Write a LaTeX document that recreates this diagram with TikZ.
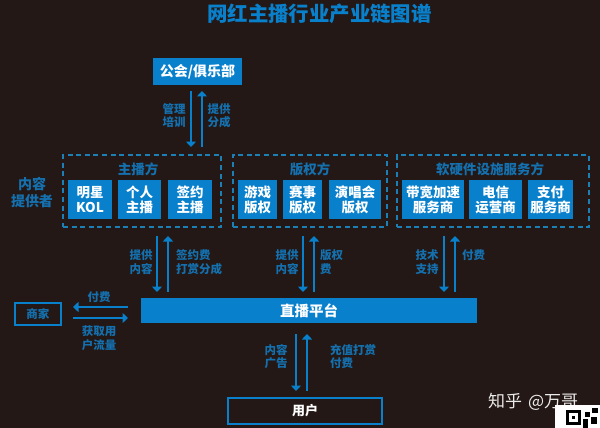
\documentclass[tikz,border=0pt]{standalone}
\usepackage{fontspec}
\setmainfont{Noto Sans CJK SC}
\usetikzlibrary{arrows.meta}
\definecolor{bgc}{HTML}{231815}
\definecolor{boxc}{HTML}{0880CC}
\definecolor{labc}{HTML}{1470AE}
\definecolor{dashc}{HTML}{1C7FB5}
\tikzset{
  fillbox/.style={fill=boxc,text=white,font=\fontsize{13.5}{15}\selectfont\bfseries,align=center,inner sep=0pt,outer sep=0pt,anchor=north west},
  outbox/.style={draw=boxc,line width=1.8pt,inner sep=0pt,outer sep=0pt,anchor=north west,align=center},
  grp/.style={draw=dashc,line width=1.8pt,dash pattern=on 5pt off 3.6pt,inner sep=0pt,outer sep=0pt,anchor=north west},
  lab/.style={text=labc,font=\fontsize{11.5}{13.5}\selectfont\bfseries,align=center,inner sep=0pt},
  labl/.style={lab,align=left,anchor=west},
  arr/.style={draw=boxc,line width=1.7pt,-{Triangle[width=10pt,length=5.5pt]}},
}
\newcommand{\bx}[7]{\node[#1,minimum width=#4pt-#2pt,minimum height=#5pt-#3pt] (#6) at (#2pt,-#3pt) {#7};}
\begin{document}
\begin{tikzpicture}[x=1pt,y=-1pt]
\useasboundingbox (0,0) rectangle (600,428);
\fill[bgc] (0,0) rectangle (600,428);
\node[text=boxc,font=\fontsize{20.4}{22}\selectfont\bfseries,inner sep=0pt] (title) at (319.5,14) {网红主播行业产业链图谱};
\bx{fillbox,font=\fontsize{14}{16}\selectfont\bfseries}{153}{58}{242}{85}{guild}{公会/俱乐部}
\bx{grp}{63}{155}{221}{227}{ga}{}
\bx{grp}{233}{155}{387}{227}{gb}{}
\bx{grp}{397}{155}{589}{227}{gc}{}
\node[text=labc,font=\fontsize{13.5}{15}\selectfont\bfseries,inner sep=0pt] (ta) at (138,169) {主播方};
\node[text=labc,font=\fontsize{13.5}{15}\selectfont\bfseries,inner sep=0pt] (tb) at (310,169) {版权方};
\node[text=labc,font=\fontsize{13.5}{15}\selectfont\bfseries,inner sep=0pt] (tc) at (490,169) {软硬件设施服务方};
\bx{fillbox}{68}{180}{112}{219}{a1}{明星\\KOL}
\bx{fillbox}{118}{180}{161}{219}{a2}{个人\\主播}
\bx{fillbox}{168}{180}{212}{219}{a3}{签约\\主播}
\bx{fillbox}{238}{180}{277}{219}{b1}{游戏\\版权}
\bx{fillbox}{283}{180}{322}{219}{b2}{赛事\\版权}
\bx{fillbox}{329}{180}{381}{219}{b3}{演唱会\\版权}
\bx{fillbox}{402}{180}{464}{219}{c1}{带宽加速\\服务商}
\bx{fillbox}{469}{180}{522}{219}{c2}{电信\\运营商}
\bx{fillbox}{528}{180}{573}{219}{c3}{支付\\服务商}
\node[text=labc,font=\fontsize{14}{16.5}\selectfont\bfseries,align=center,inner sep=0pt] (prov) at (32,192.5) {内容\\提供者};
\bx{fillbox,font=\fontsize{14.5}{16}\selectfont\bfseries}{141}{298}{477}{323}{plat}{直播平台}
\bx{outbox,text=labc,font=\fontsize{11.5}{13}\selectfont\bfseries}{15}{303}{61}{325}{shop}{商家}
\bx{outbox,text=white,font=\fontsize{13}{15}\selectfont\bfseries}{228}{398}{382}{424}{user}{用户}
% guild <-> group A
\draw[arr] ([xshift=-6.5pt,yshift=-6pt]guild.south) -- ([xshift=49pt,yshift=8pt]ga.north);
\draw[arr] ([xshift=60pt,yshift=8pt]ga.north) -- ([xshift=4.5pt,yshift=-6pt]guild.south);
\node[lab] (l1) at (174,115.5) {管理\\培训};
\node[lab] (l2) at (219,115.5) {提供\\分成};
% group A <-> platform
\draw[arr] ([xshift=15pt,yshift=-9pt]ga.south) -- ([xshift=-152pt,yshift=6pt]plat.north);
\draw[arr] ([xshift=-141pt,yshift=6pt]plat.north) -- ([xshift=26pt,yshift=-9pt]ga.south);
\node[lab] (l3) at (141,262) {提供\\内容};
\node[labl] (l4) at (176,262) {签约费\\打赏分成};
% group B <-> platform
\draw[arr] ([xshift=-7pt,yshift=-9pt]gb.south) -- ([xshift=-6pt,yshift=6pt]plat.north);
\draw[arr] ([xshift=5pt,yshift=6pt]plat.north) -- ([xshift=4pt,yshift=-9pt]gb.south);
\node[lab] (l5) at (287,262) {提供\\内容};
\node[labl] (l6) at (320,262) {版权\\费};
% group C <-> platform
\draw[arr] ([xshift=-49pt,yshift=-9pt]gc.south) -- ([xshift=135pt,yshift=6pt]plat.north);
\draw[arr] ([xshift=146pt,yshift=6pt]plat.north) -- ([xshift=-38pt,yshift=-9pt]gc.south);
\node[lab] (l7) at (427,262) {技术\\支持};
\node[labl] (l8) at (462,255) {付费};
% platform <-> shop
\draw[arr] ([xshift=-13pt,yshift=3.5pt]plat.west) -- ([xshift=12pt,yshift=7pt]shop.east);
\draw[arr] ([xshift=12pt,yshift=-4pt]shop.east) -- ([xshift=-13pt,yshift=-7.5pt]plat.west);
\node[lab] (l9) at (99,297) {付费};
\node[lab] (l10) at (99,338) {获取用\\户流量};
% platform <-> user
\draw[arr] ([xshift=-13pt,yshift=-11pt]plat.south) -- ([xshift=-9pt,yshift=7pt]user.north);
\draw[arr] ([xshift=2pt,yshift=7pt]user.north) -- ([xshift=-2pt,yshift=-11pt]plat.south);
\node[lab] (l11) at (276,356.5) {内容\\广告};
\node[labl] (l12) at (330,356.5) {充值打赏\\付费};
% watermark
\node[text=white!92!black,font=\fontsize{17}{19}\selectfont,inner sep=0pt,anchor=west] (wm) at (488,402) {知乎\hspace{2pt} @万哥};
% QR fragment
\fill[white] (555,405) rectangle (600,428);
\fill[black] (566,410) rectangle (581,425);
\fill[white] (569,413) rectangle (578,422);
\fill[black] (572,416) rectangle (575,419);
\fill[black] (585,412) rectangle (590,417);
\fill[black] (592,408) rectangle (598,413);
\fill[black] (583,419) rectangle (588,428);
\fill[black] (591,417) rectangle (597,424);
\end{tikzpicture}
\end{document}
